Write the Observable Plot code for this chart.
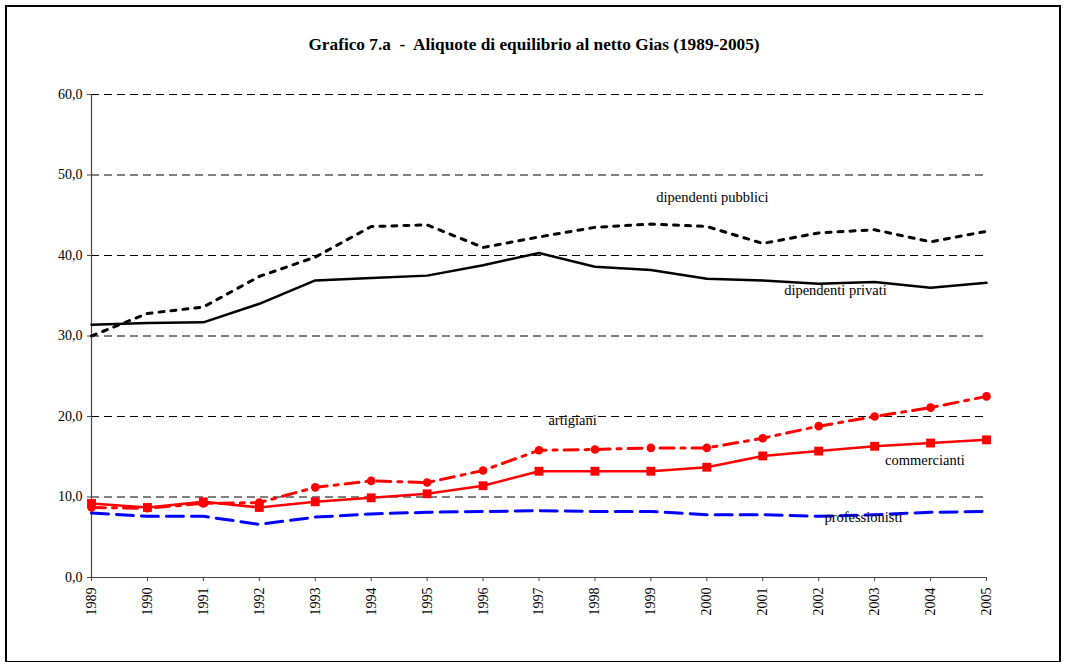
<!DOCTYPE html>
<html><head><meta charset="utf-8">
<script src="https://cdn.jsdelivr.net/npm/d3@7"></script>
<script src="https://cdn.jsdelivr.net/npm/@observablehq/plot@0.6"></script>
<style>
body{margin:0;background:#fff;}
#wrap{position:relative;width:1065px;height:662px;}
#border{position:absolute;left:5px;top:5px;width:1052px;height:654px;border:2px solid #000;pointer-events:none;box-sizing:content-box;}
</style></head>
<body><div id="wrap"><div id="chart"></div><div id="border"></div></div>
<script>
const years = [1989,1990,1991,1992,1993,1994,1995,1996,1997,1998,1999,2000,2001,2002,2003,2004,2005];
const pubblici       = [30.0,32.8,33.6,37.4,39.8,43.6,43.8,41.0,42.3,43.5,43.9,43.6,41.5,42.8,43.2,41.7,43.0];
const privati        = [31.4,31.6,31.7,34.0,36.9,37.2,37.5,38.8,40.3,38.6,38.2,37.1,36.9,36.5,36.7,36.0,36.6];
const artigiani      = [8.7,8.6,9.2,9.3,11.2,12.0,11.8,13.3,15.8,15.9,16.1,16.1,17.3,18.8,20.0,21.1,22.5];
const commercianti   = [9.2,8.7,9.4,8.7,9.4,9.9,10.4,11.4,13.2,13.2,13.2,13.7,15.1,15.7,16.3,16.7,17.1];
const professionisti = [8.0,7.6,7.6,6.6,7.5,7.9,8.1,8.2,8.3,8.2,8.2,7.8,7.8,7.6,7.8,8.1,8.2];
const yTicks = [0,10,20,30,40,50,60];
const titleText = "Grafico 7.a  -  Aliquote di equilibrio al netto Gias (1989-2005)";
const labelNames  = ["dipendenti pubblici","dipendenti privati","artigiani","commercianti","professionisti"];
const labelYears  = [2000.1,2002.3,1997.6,2003.9,2002.8];
const labelValues = [47.2,35.7,19.5,14.5,7.5];

const rows = vals => years.map((y, i) => ({year: y, value: vals[i]}));
const labels = labelNames.map((n, i) => ({name: n, year: labelYears[i], value: labelValues[i]}));

const chart = Plot.plot({
  width: 1065, height: 662,
  marginLeft: 91, marginRight: 79, marginTop: 94, marginBottom: 85,
  style: {fontFamily: "'Liberation Serif','Times New Roman',serif", fontSize: "14px", background: "#fff", color: "#000"},
  x: {domain: [1989, 2005]},
  y: {domain: [0, 60]},
  marks: [
    Plot.ruleY(yTicks.filter(d => d > 0), {stroke: "#000", strokeWidth: 1, strokeDasharray: "8,5"}),
    Plot.axisY({ticks: yTicks, tickFormat: d => d.toFixed(1).replace(".", ","), tickSize: 4, tickPadding: 5, label: null, stroke: "#444", fontSize: 14}),
    Plot.axisX({ticks: years, tickFormat: d => String(d), tickRotate: -90, tickSize: 4, tickPadding: 6, label: null, stroke: "#444", fontSize: 14}),
    Plot.ruleX([1989], {y1: 0, y2: 60, stroke: "#444", strokeWidth: 1.2}),
    Plot.ruleY([0], {stroke: "#444", strokeWidth: 1.2}),
    Plot.line(rows(professionisti), {x: "year", y: "value", stroke: "#0000ff", strokeWidth: 3, strokeDasharray: "17,8"}),
    Plot.line(rows(pubblici), {x: "year", y: "value", stroke: "#000", strokeWidth: 3, strokeDasharray: "5,7"}),
    Plot.line(rows(privati), {x: "year", y: "value", stroke: "#000", strokeWidth: 2.5}),
    Plot.line(rows(artigiani), {x: "year", y: "value", stroke: "#ff0000", strokeWidth: 3, strokeDasharray: "14,7,4,7"}),
    Plot.dot(rows(artigiani), {x: "year", y: "value", fill: "#ff0000", r: 4.3}),
    Plot.line(rows(commercianti), {x: "year", y: "value", stroke: "#ff0000", strokeWidth: 2.5}),
    Plot.dot(rows(commercianti), {x: "year", y: "value", fill: "#ff0000", symbol: "square", r: 5}),
    Plot.text(labels, {x: "year", y: "value", text: "name", fill: "#000", fontSize: 14.5}),
    Plot.text([titleText], {text: d => d, frameAnchor: "top", dy: -57, dx: -5, fontWeight: "bold", fontSize: 17.3, fill: "#000"})
  ]
});
document.getElementById("chart").appendChild(chart);
</script>
</body></html>
